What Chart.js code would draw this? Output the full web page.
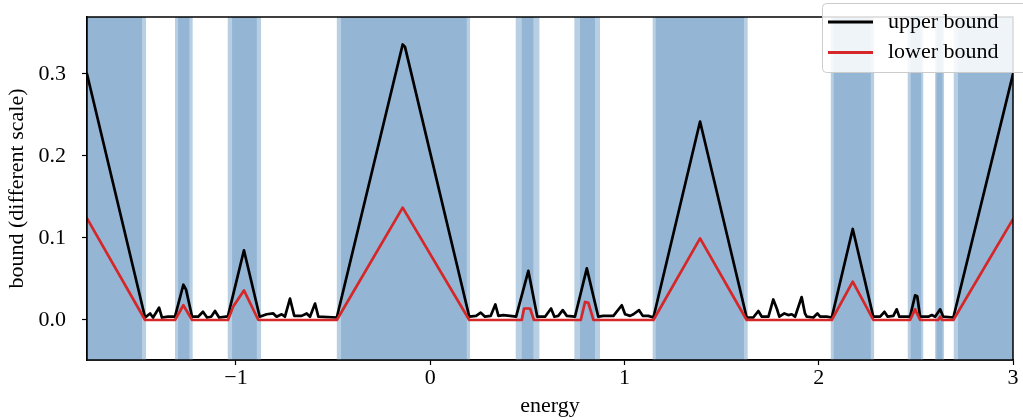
<!DOCTYPE html>
<html>
<head>
<meta charset="utf-8">
<script src="https://cdn.jsdelivr.net/npm/chart.js@4.4.1/dist/chart.umd.min.js"></script>
<style>
  html, body { margin: 0; padding: 0; background: #fff; }
</style>
</head>
<body>
<canvas id="graph" width="1023" height="420"></canvas>
<script>
// ===== données =====
const xMin = -1.767;
const xMax = 3.0;
const yMin = -0.0488;
const yMax = 0.3695;

const xTicks = [-1, 0, 1, 2, 3];
const yTicks = [0.0, 0.1, 0.2, 0.3];

// borne supérieure (noire)
const upperX = [
  -1.767, -1.468, -1.442, -1.427, -1.396, -1.381, -1.350, -1.314,
  -1.271, -1.257, -1.226, -1.195, -1.170, -1.149, -1.128, -1.108, -1.087, -1.051, -1.041,
  -0.959, -0.878, -0.842, -0.808, -0.791, -0.765, -0.748, -0.722, -0.700, -0.662, -0.636, -0.619, -0.593, -0.576, -0.481,
  -0.142, -0.130, 0.201, 0.236, 0.260, 0.282, 0.311, 0.335, 0.351, 0.376, 0.411, 0.442,
  0.505, 0.551, 0.591, 0.622, 0.639, 0.659, 0.682, 0.703, 0.745,
  0.806, 0.865, 0.891, 0.943, 0.986, 1.003, 1.029, 1.046, 1.075, 1.094, 1.123, 1.149,
  1.389, 1.629, 1.663, 1.689, 1.707, 1.741, 1.766, 1.784, 1.797, 1.823, 1.843, 1.861, 1.878, 1.912, 1.929, 1.938, 1.972, 1.993, 2.007, 2.041, 2.067,
  2.175, 2.281, 2.316, 2.338, 2.355, 2.384, 2.401, 2.415, 2.470,
  2.496, 2.507, 2.522, 2.564, 2.582, 2.599, 2.625, 2.641, 2.693, 3.0
];
const upperY = [
  0.300, 0.003, 0.008, 0.003, 0.015, 0.003, 0.004, 0.004,
  0.043, 0.037, 0.004, 0.004, 0.010, 0.003, 0.004, 0.011, 0.003, 0.004, 0.005,
  0.085, 0.004, 0.007, 0.008, 0.004, 0.007, 0.004, 0.026, 0.005, 0.005, 0.008, 0.004, 0.020, 0.004, 0.003,
  0.336, 0.333, 0.004, 0.005, 0.009, 0.004, 0.005, 0.019, 0.005, 0.006, 0.005, 0.004,
  0.060, 0.004, 0.004, 0.014, 0.004, 0.005, 0.012, 0.005, 0.004,
  0.063, 0.004, 0.005, 0.005, 0.018, 0.007, 0.005, 0.007, 0.012, 0.005, 0.005, 0.003,
  0.242, 0.003, 0.003, 0.011, 0.004, 0.004, 0.025, 0.014, 0.004, 0.008, 0.006, 0.007, 0.004, 0.028, 0.008, 0.004, 0.003, 0.008, 0.004, 0.004, 0.003,
  0.111, 0.004, 0.004, 0.010, 0.004, 0.005, 0.013, 0.004, 0.004,
  0.030, 0.029, 0.004, 0.004, 0.006, 0.004, 0.013, 0.004, 0.003, 0.300
];

// borne inférieure (rouge)
const lowerX = [
  -1.767, -1.468, -1.314, -1.271, -1.226, -1.041, -1.015, -0.959, -0.885,
  -0.481, -0.142, 0.201, 0.471, 0.483, 0.514, 0.534, 0.775, 0.797, 0.814, 0.840,
  1.149, 1.389, 1.629, 2.067, 2.175, 2.281, 2.470, 2.496, 2.522, 2.615, 2.625, 2.635, 2.693, 3.0
];
const lowerY = [
  0.124, 0, 0, 0.018, 0, 0, 0.016, 0.036, 0,
  0, 0.137, 0, 0, 0.014, 0.014, 0, 0, 0.022, 0.021, 0,
  0, 0.0996, 0, 0, 0.0467, 0, 0, 0.013, 0, 0, 0.004, 0, 0, 0.123
];

// zones bleues : bord clair (large) et cœur foncé
const lightBands = [
  [-1.767, -1.463], [-1.314, -1.223], [-1.0425, -0.871], [-0.481, 0.205], [0.440, 0.562],
  [0.742, 0.874], [1.145, 1.634], [2.062, 2.285], [2.458, 2.538], [2.599, 2.645], [2.695, 3.0]
];
const darkBands = [
  [-1.767, -1.484], [-1.298, -1.240], [-1.020, -0.893], [-0.459, 0.188], [0.471, 0.531],
  [0.771, 0.848], [1.161, 1.615], [2.077, 2.268], [2.474, 2.527], [2.606, 2.637], [2.717, 3.0]
];

const fontFamily = "'Liberation Serif', 'DejaVu Serif', serif";
const fontSize = 22;
const minus = v => (v < 0 ? '\u2212' + Math.abs(v) : String(v));

// Plugin pour les bandes verticales (sous les courbes)
const bandPlugin = {
  id: 'bandPlugin',
  beforeDatasetsDraw: (chart) => {
    const { ctx, chartArea } = chart;
    const x = chart.scales.x;
    ctx.save();
    const paint = (list, colour) => {
      ctx.fillStyle = colour;
      list.forEach(([a, b]) => {
        const x0 = x.getPixelForValue(a);
        const x1 = x.getPixelForValue(b);
        ctx.fillRect(x0, chartArea.top, x1 - x0, chartArea.bottom - chartArea.top);
      });
    };
    paint(lightBands, '#b7cee3');
    paint(darkBands, '#94b5d3');
    ctx.restore();
  }
};

// Cadre complet + légende en haut à droite
const framePlugin = {
  id: 'framePlugin',
  afterDraw: (chart) => {
    const { ctx, chartArea } = chart;
    ctx.save();
    ctx.strokeStyle = '#000';
    ctx.lineWidth = 1.5;
    ctx.strokeRect(chartArea.left, chartArea.top, chartArea.right - chartArea.left, chartArea.bottom - chartArea.top);

    // légende
    const bx = 822.5, by = 3.5, bw = 220, bh = 69, r = 4;
    ctx.beginPath();
    ctx.moveTo(bx + r, by);
    ctx.lineTo(bx + bw - r, by);
    ctx.arcTo(bx + bw, by, bx + bw, by + r, r);
    ctx.lineTo(bx + bw, by + bh - r);
    ctx.arcTo(bx + bw, by + bh, bx + bw - r, by + bh, r);
    ctx.lineTo(bx + r, by + bh);
    ctx.arcTo(bx, by + bh, bx, by + bh - r, r);
    ctx.lineTo(bx, by + r);
    ctx.arcTo(bx, by, bx + r, by, r);
    ctx.closePath();
    ctx.fillStyle = 'rgba(255,255,255,0.85)';
    ctx.fill();
    ctx.strokeStyle = '#cccccc';
    ctx.lineWidth = 1;
    ctx.stroke();

    const rows = [chart.data.datasets[0], chart.data.datasets[1]];
    rows.forEach((ds, i) => {
      const yy = 22 + i * 30.5;
      ctx.strokeStyle = ds.borderColor;
      ctx.lineWidth = 3;
      ctx.beginPath();
      ctx.moveTo(828, yy);
      ctx.lineTo(873, yy);
      ctx.stroke();
      ctx.fillStyle = '#000';
      ctx.font = fontSize + 'px ' + fontFamily;
      ctx.textBaseline = 'middle';
      ctx.textAlign = 'left';
      ctx.fillText(ds.label, 888, yy);
    });
    ctx.restore();
  }
};

const ctx = document.getElementById('graph').getContext('2d');

const graph = new Chart(ctx, {
  type: 'line',
  data: {
    datasets: [
      {
        label: 'upper bound',
        data: upperX.map((x, i) => ({ x: x, y: upperY[i] })),
        borderColor: '#000000',
        borderWidth: 2.7,
        order: 1
      },
      {
        label: 'lower bound',
        data: lowerX.map((x, i) => ({ x: x, y: lowerY[i] })),
        borderColor: '#d62728',
        borderWidth: 2.7,
        order: 0
      }
    ]
  },
  options: {
    responsive: false,
    animation: false,
    devicePixelRatio: 1,
    layout: { padding: { top: 17, right: 10, left: 0, bottom: 0 } },
    elements: {
      point: { radius: 0, hoverRadius: 0 },
      line: { tension: 0, borderJoinStyle: 'round', borderCapStyle: 'round', fill: false }
    },
    plugins: {
      legend: { display: false },
      tooltip: { enabled: false }
    },
    scales: {
      x: {
        type: 'linear',
        min: xMin,
        max: xMax,
        afterBuildTicks: (s) => { s.ticks = xTicks.map(v => ({ value: v })); },
        afterFit: (s) => {
          s.height = 60;
          s.paddingLeft = 0;
          s.paddingRight = 0;
        },
        ticks: {
          color: '#000',
          font: { family: fontFamily, size: fontSize },
          padding: 0,
          maxRotation: 0,
          autoSkip: false,
          callback: (v) => minus(v)
        },
        grid: { drawOnChartArea: false, tickLength: 5, tickColor: '#000', tickWidth: 1.2 },
        border: { color: '#000', width: 1.5 },
        title: {
          display: true,
          text: 'energy',
          color: '#000',
          font: { family: fontFamily, size: fontSize },
          padding: { top: 0, bottom: 1 }
        }
      },
      y: {
        type: 'linear',
        min: yMin,
        max: yMax,
        afterBuildTicks: (s) => { s.ticks = yTicks.map(v => ({ value: v })); },
        afterFit: (s) => {
          s.width = 87;
          s.paddingTop = 0;
          s.paddingBottom = 0;
        },
        ticks: {
          color: '#000',
          font: { family: fontFamily, size: fontSize },
          padding: 16,
          autoSkip: false,
          callback: (v) => v.toFixed(1)
        },
        grid: { drawOnChartArea: false, tickLength: 5, tickColor: '#000', tickWidth: 1.2 },
        border: { color: '#000', width: 1.5 },
        title: {
          display: true,
          text: 'bound (different scale)',
          color: '#000',
          font: { family: fontFamily, size: fontSize },
          padding: { top: 4, bottom: 0 }
        }
      }
    }
  },
  plugins: [bandPlugin, framePlugin]
});
</script>
</body>
</html>
